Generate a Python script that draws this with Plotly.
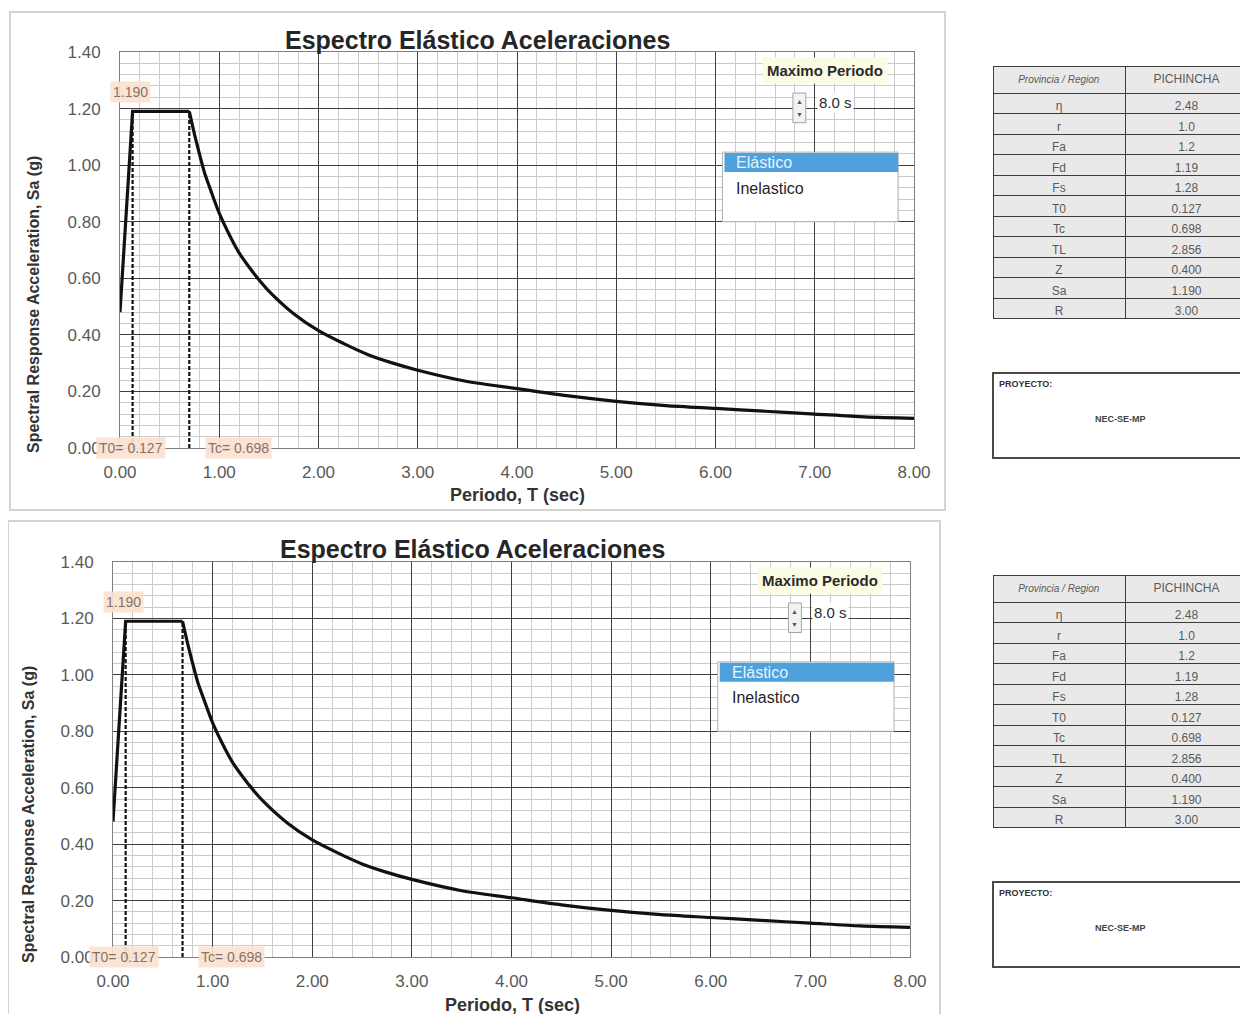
import plotly.graph_objects as go

# spectrum points (T in s, Sa in g)
periodo = [0.0, 0.127, 0.698, 0.75, 0.8, 0.85, 0.9, 1.0, 1.1, 1.2, 1.3, 1.4, 1.5, 1.75, 2.0, 2.25,
           2.5, 2.75, 3.0, 3.5, 4.0, 4.5, 5.0, 5.5, 6.0, 6.5, 7.0, 7.5, 8.0]
sa = [0.480, 1.190, 1.190, 1.11, 1.04, 0.975, 0.925, 0.83, 0.755, 0.69, 0.64, 0.595, 0.555, 0.475,
      0.415, 0.37, 0.33, 0.30, 0.275, 0.235, 0.21, 0.185, 0.165, 0.15, 0.14, 0.13, 0.12, 0.11, 0.105]

t0 = 0.127
tc = 0.698
sa_max = 1.190
sa_0 = 0.480

# parameter table
param_names = ["η", "r", "Fa", "Fd", "Fs", "T0", "Tc", "TL", "Z", "Sa", "R"]
param_values = ["2.48", "1.0", "1.2", "1.19", "1.28", "0.127", "0.698", "2.856", "0.400", "1.190", "3.00"]
region = "PICHINCHA"
proyecto = "NEC-SE-MP"

# page has an 8px body margin, so the figure is a bit smaller than the window
OFF = 8
W, H = 1248 - OFF, 1014 - OFF


def px(x):
    return (x - OFF) / W


def py(y):
    return 1 - (y - OFF) / H


FONT = "Liberation Sans"

# pixel layout (window coords) of the two identical panels
panels = [
    dict(xa="x", ya="y", xdom=(120, 914), ydom=(52, 448), frame=(10, 12, 945, 510),
         title=(477, 40), xtitle=(517, 495), ytitle=(34, 305), tbl=(66, 313), proj=(373, 458)),
    dict(xa="x2", ya="y2", xdom=(113, 910), ydom=(562, 957), frame=(8, 521, 940, 1030),
         title=(472, 549), xtitle=(512, 1005), ytitle=(28, 815), tbl=(575, 822), proj=(882, 967)),
]

fig = go.Figure()
shapes = []
annotations = []
layout_axes = {}

label_bg = "rgba(252,226,208,0.92)"
label_font = dict(family=FONT, size=14, color="#857368")

# index where the plateau ends (Tc): rise + plateau straight, decay smooth
k = periodo.index(tc)

for i, p in enumerate(panels):
    xa, ya = p["xa"], p["ya"]
    sfx = "" if i == 0 else "2"

    # main curve
    fig.add_trace(go.Scatter(x=periodo[:k + 1], y=sa[:k + 1], mode="lines", xaxis=xa, yaxis=ya,
                             line=dict(color="#111111", width=3.2), hoverinfo="skip"))
    fig.add_trace(go.Scatter(x=periodo[k:], y=sa[k:], mode="lines", xaxis=xa, yaxis=ya,
                             line=dict(color="#111111", width=3.2, shape="spline", smoothing=0.8),
                             hoverinfo="skip"))
    # T0 / Tc dashed markers
    fig.add_trace(go.Scatter(x=[t0, t0, None, tc, tc], y=[0, sa_max, None, 0, sa_max],
                             mode="lines", xaxis=xa, yaxis=ya,
                             line=dict(color="#111111", width=2.2, dash="4px,2px"), hoverinfo="skip"))

    layout_axes["xaxis" + sfx] = dict(
        domain=[px(p["xdom"][0]), px(p["xdom"][1])], anchor=ya, automargin=False,
        range=[0, 8], dtick=1, tickformat=".2f",
        showgrid=True, gridcolor="#3f3f3f", gridwidth=1,
        minor=dict(dtick=0.2, showgrid=True, gridcolor="#cbcbcb", gridwidth=1),
        showline=True, linecolor="#7f7f7f", mirror=True, zeroline=False,
        ticks="outside", ticklen=9, tickcolor="rgba(0,0,0,0)",
        tickfont=dict(family=FONT, size=17, color="#595959"),
    )
    layout_axes["yaxis" + sfx] = dict(
        domain=[py(p["ydom"][1]), py(p["ydom"][0])], anchor=xa, automargin=False,
        range=[0, 1.4], dtick=0.2, tickformat=".2f",
        showgrid=True, gridcolor="#3f3f3f", gridwidth=1,
        minor=dict(dtick=0.04, showgrid=True, gridcolor="#cbcbcb", gridwidth=1),
        showline=True, linecolor="#7f7f7f", mirror=True, zeroline=False,
        ticks="outside", ticklen=15, tickcolor="rgba(0,0,0,0)",
        tickfont=dict(family=FONT, size=17, color="#595959"),
    )

    # chart frame
    fx0, fy0, fx1, fy1 = p["frame"]
    shapes.append(dict(type="rect", xref="paper", yref="paper", x0=px(fx0), x1=px(fx1),
                       y0=py(fy1), y1=py(fy0), line=dict(color="#d3d3d3", width=2), layer="below"))

    # titles
    annotations.append(dict(xref="paper", yref="paper", x=px(p["title"][0]), y=py(p["title"][1]),
                            xanchor="center", yanchor="middle",
                            text="<b>Espectro Elástico Aceleraciones</b>", showarrow=False,
                            font=dict(family=FONT, size=25, color="#262626")))
    annotations.append(dict(xref="paper", yref="paper", x=px(p["xtitle"][0]), y=py(p["xtitle"][1]),
                            xanchor="center", yanchor="middle",
                            text="<b>Periodo, T (sec)</b>", showarrow=False,
                            font=dict(family=FONT, size=18, color="#333333")))
    annotations.append(dict(xref="paper", yref="paper", x=px(p["ytitle"][0]), y=py(p["ytitle"][1]),
                            xanchor="center", yanchor="middle",
                            text="<b>Spectral Response Acceleration, Sa (g)</b>", showarrow=False,
                            textangle=-90, font=dict(family=FONT, size=16, color="#333333")))

    # data labels
    for lx, ly, txt in [(0.11, 1.258, f"{sa_max:.3f}"), (-0.01, 0.551, f"{sa_0:.3f}"),
                        (0.11, 0.0, f"T0= {t0:.3f}"), (1.19, 0.0, f"Tc= {tc:.3f}")]:
        annotations.append(dict(xref=xa, yref=ya, x=lx, y=ly, text=txt, showarrow=False,
                                bgcolor=label_bg, borderpad=2, font=label_font))

    # "Maximo Periodo" control
    annotations.append(dict(xref=xa, yref=ya, x=7.10, y=1.333, text="<b>Maximo Periodo</b>",
                            showarrow=False, bgcolor="#fcfbe4", borderpad=4,
                            font=dict(family=FONT, size=15, color="#2b2b2b")))
    shapes.append(dict(type="rect", xref=xa, yref=ya, x0=6.78, x1=6.91, y0=1.15, y1=1.255,
                       fillcolor="#f2f2f2", line=dict(color="#a6a6a6", width=1)))
    annotations.append(dict(xref=xa, yref=ya, x=6.845, y=1.226, text="▲", showarrow=False,
                            font=dict(size=7, color="#555555")))
    annotations.append(dict(xref=xa, yref=ya, x=6.845, y=1.178, text="▼", showarrow=False,
                            font=dict(size=7, color="#555555")))
    annotations.append(dict(xref=xa, yref=ya, x=7.02, y=1.22, xanchor="left", text="8.0 s",
                            showarrow=False, bgcolor="white",
                            font=dict(family=FONT, size=15, color="#2b2b2b")))

    # list box
    shapes.append(dict(type="rect", xref=xa, yref=ya, x0=6.07, x1=7.84, y0=0.80, y1=1.046,
                       fillcolor="white", line=dict(color="#b0b0b0", width=1)))
    shapes.append(dict(type="rect", xref=xa, yref=ya, x0=6.09, x1=7.84, y0=0.976, y1=1.043,
                       fillcolor="#4ea1dc", line=dict(width=0)))
    annotations.append(dict(xref=xa, yref=ya, x=6.19, y=1.008, xanchor="left", text="Elástico",
                            showarrow=False, font=dict(family=FONT, size=16, color="#e8f3fb")))
    annotations.append(dict(xref=xa, yref=ya, x=6.19, y=0.919, xanchor="left", text="Inelastico",
                            showarrow=False, font=dict(family=FONT, size=16, color="#1f1f1f")))

    # parameter table
    fig.add_trace(go.Table(
        domain=dict(x=[px(993), 1.0], y=[py(p["tbl"][1] + 30), py(p["tbl"][0])]),
        columnwidth=[132, 123],
        header=dict(values=["<i>Provincia / Region</i>", region], height=20.5,
                    fill_color="#e9e9e9", line=dict(color="#3c3c3c", width=1),
                    align="center", font=dict(family=FONT, size=[10, 12], color="#5a5a5a")),
        cells=dict(values=[param_names, param_values], height=20.5,
                   fill_color="#e9e9e9", line=dict(color="#3c3c3c", width=1),
                   align="center", font=dict(family=FONT, size=12, color="#5a5a5a")),
    ))

    # project box
    pr0, pr1 = p["proj"]
    shapes.append(dict(type="rect", xref="paper", yref="paper", x0=px(993), x1=px(1260),
                       y0=py(pr1), y1=py(pr0), fillcolor="white", line=dict(color="#4a4a4a", width=2)))
    annotations.append(dict(xref="paper", yref="paper", x=px(997), y=py(pr0 + 4), xanchor="left",
                            yanchor="top", text="<b>PROYECTO:</b>", showarrow=False,
                            font=dict(family=FONT, size=9, color="#333333")))
    annotations.append(dict(xref="paper", yref="paper", x=px(1120), y=py(pr0 + 46),
                            xanchor="center", yanchor="middle", text="<b>" + proyecto + "</b>",
                            showarrow=False, font=dict(family=FONT, size=9, color="#444444")))

fig.update_layout(
    width=W, height=H, autosize=False,
    margin=dict(l=0, r=0, t=0, b=0),
    paper_bgcolor="white", plot_bgcolor="white",
    showlegend=False,
    shapes=shapes, annotations=annotations,
    **layout_axes,
)

fig.write_html("out.html")
